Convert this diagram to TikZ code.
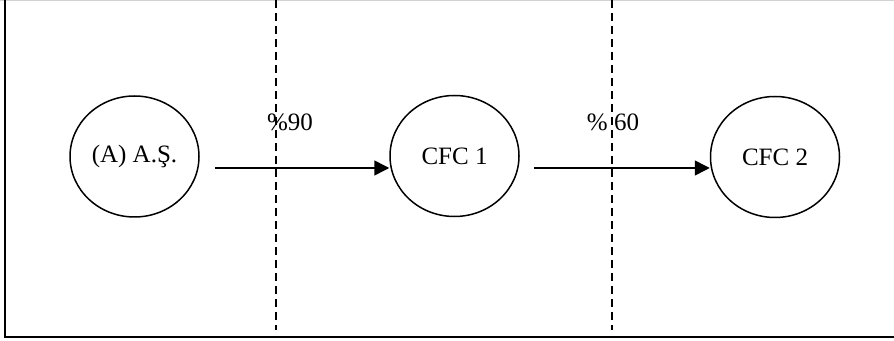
\documentclass[tikz,border=0pt]{standalone}
\usepackage{fontspec}
\setmainfont{Liberation Serif}
\usepackage{tikz}
\usetikzlibrary{arrows.meta,shapes.geometric}

\tikzset{
  firm/.style={draw, ellipse, line width=0.75pt, minimum width=64.5pt, minimum height=60.5pt, inner sep=0pt, font=\fontsize{12.5}{15}\selectfont},
  share/.style={font=\fontsize{12.5}{15}\selectfont, inner sep=0pt},
  own/.style={line width=0.75pt, -{Triangle[length=7.5pt,width=7.5pt]}},
  cut/.style={line width=0.6pt, dash pattern=on 4pt off 2.5pt}
}

\begin{document}
\begin{tikzpicture}[x=0.5pt,y=-0.5pt]
                \useasboundingbox (0,0) rectangle (894,341);

                % frame
                \draw[gray!35, line width=0.8pt] (0,0.6) -- (894,0.6);
                \draw[line width=1pt] (5,0) -- (5,337) -- (894,337);

                % border lines
                \draw[cut] (276,0) -- (276,330);
                \draw[cut] (612,0) -- (612,330);

                % companies
                \node[firm] (as) at (134.5,156.5) {(A) A.Ş.};
                \node[firm] (cfca) at (454.5,156) {CFC 1};
                \node[firm] (cfcb) at (775,157) {CFC 2};

                % shares
                \node[share] (pa) at (290,122) {\%90};
                \node[share] (pb) at (613,122) {\% 60};

                \draw[own] ([xshift=7.5pt,yshift=-5.75pt]as.east) -- ([yshift=-6pt]cfca.west);
                \draw[own] ([xshift=7pt,yshift=-6pt]cfca.east) -- ([yshift=-5.5pt]cfcb.west);
            \end{tikzpicture}
\end{document}
